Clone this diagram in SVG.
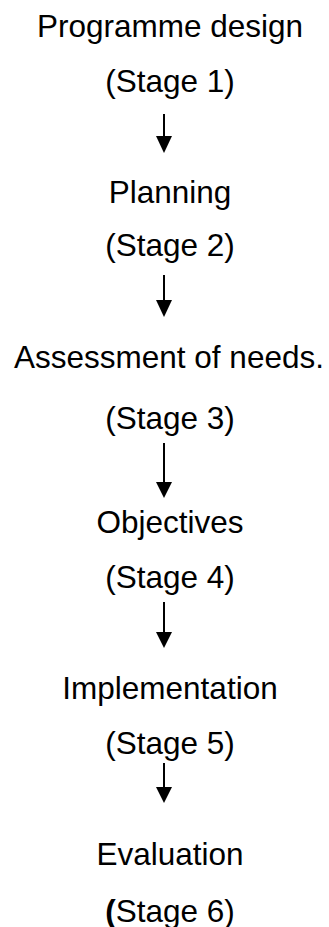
<svg xmlns="http://www.w3.org/2000/svg" width="329" height="927" viewBox="0 0 329 927">
<style>
text{font-family:"Liberation Sans",Arial,sans-serif;font-size:31.5px;fill:#000;text-anchor:middle}
.c line{stroke:#000;stroke-width:2}
.c polygon{fill:#000}
</style>
<rect width="329" height="927" fill="#fff"/>
<g id="n1"><text x="170" y="37">Programme design</text><text x="170" y="92">(Stage 1)</text></g>
<g id="n2"><text x="170" y="203">Planning</text><text x="170" y="256">(Stage 2)</text></g>
<g id="n3"><text x="169" y="368">Assessment of needs.</text><text x="170" y="429">(Stage 3)</text></g>
<g id="n4"><text x="170" y="533">Objectives</text><text x="170" y="588">(Stage 4)</text></g>
<g id="n5"><text x="170" y="699">Implementation</text><text x="170" y="754">(Stage 5)</text></g>
<g id="n6"><text x="170" y="865">Evaluation</text><text x="170" y="922"><tspan font-weight="bold">(</tspan>Stage 6)</text></g>
<g class="c" id="connectors">
<line x1="164" y1="114" x2="164" y2="137"/><polygon points="156,136 172,136 164,153"/>
<line x1="164" y1="275" x2="164" y2="301"/><polygon points="156,300 172,300 164,317"/>
<line x1="164" y1="443" x2="164" y2="483"/><polygon points="156,482 172,482 164,498"/>
<line x1="164" y1="602" x2="164" y2="633"/><polygon points="156,632 172,632 164,648"/>
<line x1="164" y1="763" x2="164" y2="788"/><polygon points="156,787 172,787 164,803"/>
</g>
</svg>
